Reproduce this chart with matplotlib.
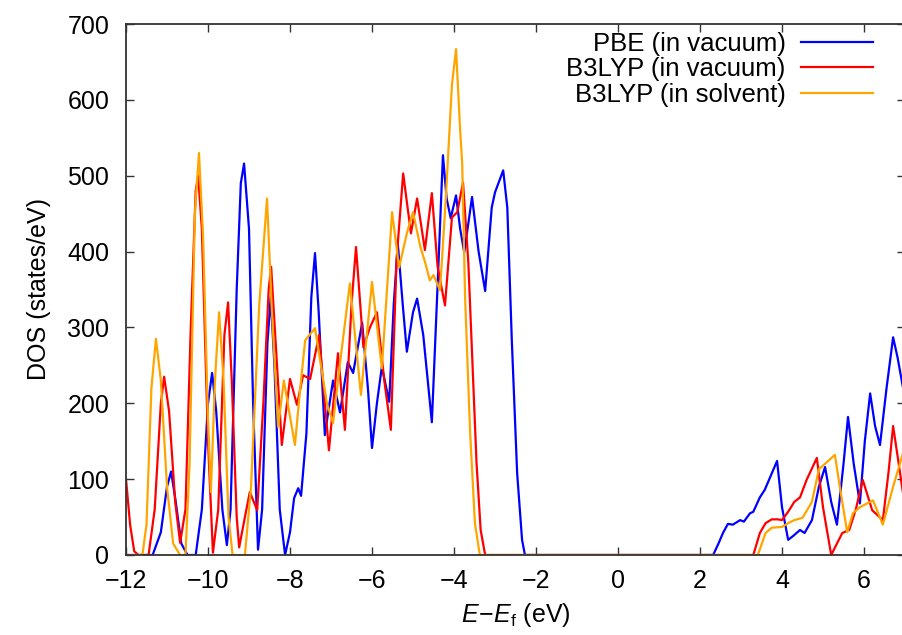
import matplotlib
matplotlib.use("Agg")
import matplotlib.pyplot as plt
import numpy as np

plt.rcParams['font.family'] = ['Liberation Sans', 'DejaVu Sans']
plt.rcParams['mathtext.fontset'] = 'custom'
plt.rcParams['mathtext.rm'] = 'Liberation Sans'
plt.rcParams['mathtext.it'] = 'Liberation Sans:italic'

# PBE (in vacuum)
pbe_e = [-12, -11.35, -11.15, -11.0, -10.9, -10.8, -10.65, -10.5, -10.3, -10.15, -10.0, -9.9, -9.8, -9.65,
         -9.54, -9.45, -9.3, -9.2, -9.12, -9.0, -8.9, -8.78, -8.68, -8.55, -8.47, -8.38, -8.25, -8.12, -8.0,
         -7.9, -7.8, -7.73, -7.6, -7.48, -7.39, -7.3, -7.15, -7.05, -6.95, -6.78, -6.59, -6.46, -6.24, -6.1,
         -6.0, -5.88, -5.76, -5.58, -5.47, -5.37, -5.25, -5.15, -5.0, -4.9, -4.75, -4.54, -4.42, -4.27, -4.18,
         -4.08, -3.95, -3.85, -3.75, -3.56, -3.4, -3.24, -3.08, -3.0, -2.8, -2.7, -2.59, -2.46, -2.34, -2.27,
         2.32, 2.45, 2.56, 2.68, 2.8, 2.98, 3.07, 3.22, 3.3, 3.46, 3.58, 3.88, 4.0, 4.15, 4.27, 4.44, 4.55,
         4.73, 4.9, 5.05, 5.2, 5.34, 5.5, 5.61, 5.75, 5.9, 6.02, 6.15, 6.27, 6.39, 6.55, 6.71, 6.82, 6.95, 7.0]
pbe_dos = [0, 0, 30, 90, 110, 75, 15, 0, 0, 60, 200, 240, 190, 60,
           13, 60, 350, 490, 516, 430, 200, 7, 60, 280, 340, 250, 60, 0, 30,
           75, 88, 78, 160, 340, 398, 320, 158, 195, 230, 188, 254, 240, 306, 220,
           141, 200, 248, 202, 330, 410, 330, 268, 320, 338, 290, 175, 330, 527, 470,
           444, 474, 430, 399, 472, 400, 348, 458, 478, 507, 458, 283, 108, 20, 0,
           0, 15, 29, 41, 40, 46, 44, 55, 57, 76, 86, 124, 63, 20, 25, 33, 29,
           46, 90, 116, 70, 40, 120, 182, 120, 68, 150, 213, 170, 145, 220, 287, 260, 221, 200]

# B3LYP (in vacuum)
b3v_e = [-12, -11.9, -11.8, -11.7, -11.45, -11.3, -11.15, -11.07, -10.95, -10.8, -10.68, -10.55, -10.42,
         -10.3, -10.24, -10.15, -10.0, -9.88, -9.75, -9.6, -9.51, -9.42, -9.3, -9.24, -9.1, -8.98, -8.8,
         -8.65, -8.52, -8.46, -8.35, -8.2, -8.0, -7.83, -7.68, -7.51, -7.29, -7.15, -7.05, -6.83, -6.66,
         -6.5, -6.39, -6.21, -6.05, -5.88, -5.7, -5.54, -5.4, -5.24, -5.05, -4.9, -4.71, -4.54, -4.4, -4.22,
         -4.05, -3.92, -3.78, -3.65, -3.55, -3.45, -3.35, -3.24,
         3.3, 3.46, 3.6, 3.75, 3.9, 4.0, 4.15, 4.3, 4.44, 4.6, 4.85, 5.0, 5.2, 5.47, 5.64, 5.8, 5.97,
         6.2, 6.46, 6.6, 6.71, 6.82, 6.95, 7.0]
b3v_dos = [100, 40, 5, 0, 0, 60, 200, 235, 190, 70, 16, 60, 300,
           480, 500, 430, 150, 3, 60, 290, 333, 230, 50, 10, 50, 83, 59,
           200, 350, 380, 280, 145, 232, 198, 237, 232, 290, 200, 138, 266, 165,
           330, 406, 274, 300, 320, 230, 165, 390, 503, 424, 470, 402, 477, 380, 329,
           445, 452, 491, 385, 253, 121, 33, 0,
           0, 29, 42, 47, 47, 46, 57, 70, 76, 99, 128, 63, 0, 29, 33, 60, 99,
           59, 46, 110, 170, 130, 82, 66]

# B3LYP (in solvent)
b3s_e = [-12, -11.6, -11.5, -11.38, -11.27, -11.15, -11.0, -10.85, -10.68, -10.55, -10.45, -10.32, -10.22,
         -10.12, -10.0, -9.93, -9.83, -9.73, -9.62, -9.5, -9.4, -9.1, -8.95, -8.75, -8.56, -8.45, -8.29,
         -8.15, -7.88, -7.75, -7.63, -7.39, -7.1, -6.95, -6.75, -6.54, -6.27, -6.0, -5.76, -5.51, -5.34,
         -5.15, -5.0, -4.82, -4.7, -4.59, -4.5, -4.34, -4.2, -4.05, -3.95, -3.85, -3.8, -3.73, -3.61, -3.49,
         -3.37,
         3.41, 3.6, 3.75, 4.0, 4.15, 4.3, 4.5, 4.73, 4.9, 5.29, 5.41, 5.59, 5.73, 5.9, 6.22, 6.46, 6.71,
         6.95, 7.0]
b3s_dos = [0, 0, 40, 220, 285, 230, 90, 15, 0, 0, 120, 450, 530,
           420, 180, 83, 230, 320, 230, 50, 0, 0, 90, 330, 470, 330, 169,
           230, 145, 220, 283, 299, 200, 174, 266, 358, 211, 360, 246, 452, 379,
           424, 452, 406, 385, 362, 369, 349, 470, 620, 667, 560, 516, 340, 165, 42,
           0,
           0, 29, 36, 37, 42, 46, 49, 70, 113, 132, 90, 30, 55, 63, 72, 40, 90,
           134, 140]

labels = ["PBE (in vacuum)", "B3LYP (in vacuum)", "B3LYP (in solvent)"]
colors = ["#0000ff", "#ff0000", "#ffa500"]

fig = plt.figure(figsize=(9.03, 6.35), dpi=100)
ax = fig.add_axes([126 / 903, 80 / 635, 779 / 903, 531 / 635])

for e, d, lab, c in zip([pbe_e, b3v_e, b3s_e], [pbe_dos, b3v_dos, b3s_dos], labels, colors):
    ax.plot(e, d, color=c, lw=1.6, label=lab, solid_joinstyle='round')

ax.set_xlim(-12, 7)
ax.set_ylim(0, 700)
ax.set_xticks(np.arange(-12, 7, 2))
ax.set_yticks(np.arange(0, 701, 100))
ax.tick_params(direction='in', length=6, width=1, labelsize=18, top=True, right=True, color='#333333')
ax.tick_params(axis='y', pad=12)
ax.tick_params(axis='x', pad=10)
for s in ax.spines.values():
    s.set_linewidth(1.3)
    s.set_color('#333333')

ax.set_xlabel(r'$E\!-\!E_\mathrm{f}$ (eV)', fontsize=18, labelpad=6)
ax.set_ylabel('DOS (states/eV)', fontsize=18, labelpad=12)

ax.legend(loc='upper right', bbox_to_anchor=(873 / 903, 1 - 32 / 635), bbox_transform=fig.transFigure,
          frameon=False, markerfirst=False, fontsize=18.5, handlelength=2.8, handletextpad=0.6,
          labelspacing=0.05, borderpad=0, borderaxespad=0)

fig.savefig("out.png", dpi=100)
